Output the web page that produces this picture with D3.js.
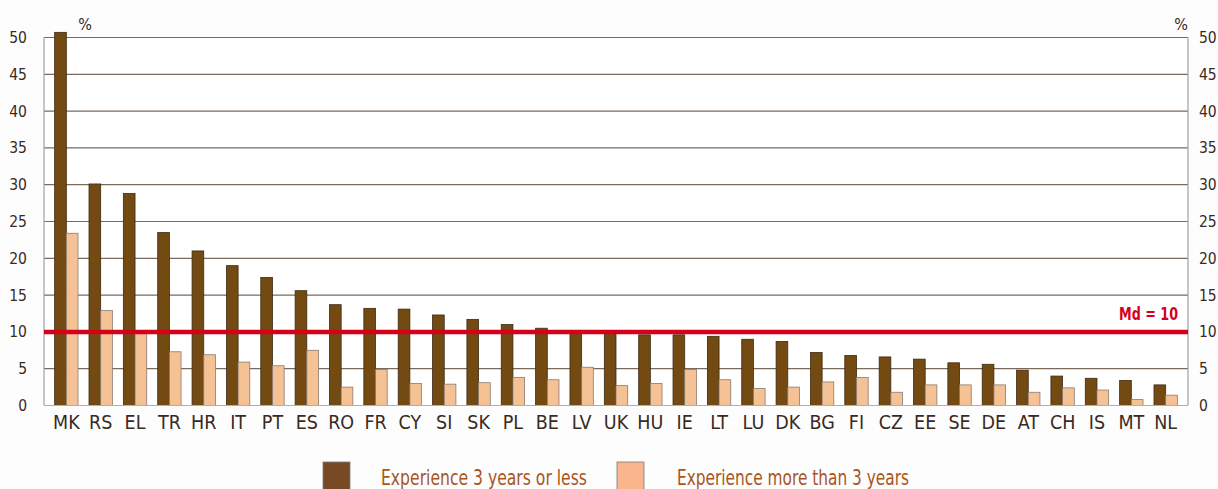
<!DOCTYPE html>
<html>
<head>
<meta charset="utf-8">
<script src="https://cdnjs.cloudflare.com/ajax/libs/d3/7.8.5/d3.min.js"></script>
<style>
  body { margin: 0; background: #fdfdfd; }
  svg text { font-family: "DejaVu Sans Condensed", "Liberation Sans", sans-serif; }
</style>
</head>
<body>
<div id="chart"></div>
<script>
// countries, in the order shown
const countries = ["MK", "RS", "EL", "TR", "HR", "IT", "PT", "ES", "RO", "FR", "CY", "SI", "SK", "PL", "BE", "LV",
    "UK", "HU", "IE", "LT", "LU", "DK", "BG", "FI", "CZ", "EE", "SE", "DE", "AT", "CH", "IS", "MT", "NL"];
const lessThan3 = [50.7, 30.1, 28.8, 23.5, 21.0, 19.0, 17.4, 15.6, 13.7, 13.2, 13.1, 12.3, 11.7, 11.0, 10.5, 10.2,
    9.9, 9.6, 9.6, 9.4, 9.0, 8.7, 7.2, 6.8, 6.6, 6.3, 5.8, 5.6, 4.8, 4.0, 3.7, 3.4, 2.8];
const moreThan3 = [23.4, 12.9, 9.9, 7.3, 6.9, 5.9, 5.4, 7.5, 2.5, 4.9, 3.0, 2.9, 3.1, 3.8, 3.5, 5.2,
    2.7, 3.0, 4.9, 3.5, 2.3, 2.5, 3.2, 3.8, 1.8, 2.8, 2.8, 2.8, 1.8, 2.4, 2.1, 0.8, 1.4];
const yTicks = [0, 5, 10, 15, 20, 25, 30, 35, 40, 45, 50];
const median = 10;
const seriesNames = ["Experience 3 years or less", "Experience more than 3 years"];
const seriesColors = ["#734a12", "#f5c296"];

const width = 1218, height = 489;
const plot = { left: 44, right: 1188, top: 37.5, bottom: 405.5 };

const svg = d3.select("#chart").append("svg")
    .attr("width", width)
    .attr("height", height);

svg.append("rect").attr("x", plot.left).attr("y", plot.top)
    .attr("width", plot.right - plot.left).attr("height", plot.bottom - plot.top)
    .attr("fill", "#ffffff");

const x = d3.scaleBand()
    .domain(countries)
    .range([plot.left, plot.right])
    .paddingInner(0.32)
    .paddingOuter(0.31);

const xSub = d3.scaleBand()
    .domain([0, 1])
    .range([0, x.bandwidth()]);

const y = d3.scaleLinear()
    .domain([0, 50])
    .range([plot.bottom, plot.top]);

// gridlines
svg.append("g")
    .selectAll("line")
    .data(yTicks.filter(d => d > 0))
    .join("line")
    .attr("x1", plot.left).attr("x2", plot.right)
    .attr("y1", d => y(d)).attr("y2", d => y(d))
    .attr("stroke", "#7a6a5c")
    .attr("stroke-width", 1.2);

// side lines
svg.append("line").attr("x1", plot.left).attr("x2", plot.left).attr("y1", plot.top).attr("y2", plot.bottom)
    .attr("stroke", "#a8a099").attr("stroke-width", 1.2);
svg.append("line").attr("x1", plot.right).attr("x2", plot.right).attr("y1", plot.top).attr("y2", plot.bottom)
    .attr("stroke", "#a8a099").attr("stroke-width", 1.2);

// bars
const groups = svg.append("g")
    .selectAll("g")
    .data(countries)
    .join("g")
    .attr("transform", d => `translate(${x(d)},0)`);

groups.append("rect")
    .attr("x", xSub(0))
    .attr("width", xSub.bandwidth())
    .attr("y", (d, i) => y(lessThan3[i]))
    .attr("height", (d, i) => y(0) - y(lessThan3[i]))
    .attr("fill", seriesColors[0])
    .attr("stroke", "#3e2a14")
    .attr("stroke-width", 0.8);

groups.append("rect")
    .attr("x", xSub(1))
    .attr("width", xSub.bandwidth())
    .attr("y", (d, i) => y(moreThan3[i]))
    .attr("height", (d, i) => y(0) - y(moreThan3[i]))
    .attr("fill", seriesColors[1])
    .attr("stroke", "#8a7a70")
    .attr("stroke-width", 0.8);

// baseline
svg.append("line").attr("x1", plot.left).attr("x2", plot.right).attr("y1", y(0)).attr("y2", y(0))
    .attr("stroke", "#a3aed0").attr("stroke-width", 1.2);

// median line
svg.append("line").attr("x1", plot.left).attr("x2", plot.right).attr("y1", y(median)).attr("y2", y(median))
    .attr("stroke", "#d7001a").attr("stroke-width", 4.5);
svg.append("text")
    .attr("x", plot.right - 69).attr("y", y(median) - 11.5)
    .attr("fill", "#d7001a")
    .attr("font-weight", "bold")
    .attr("font-size", 18)
    .attr("textLength", 59)
    .attr("lengthAdjust", "spacingAndGlyphs")
    .text("Md = " + median);

// axes
const axisLeft = svg.append("g")
    .attr("transform", `translate(${plot.left},0)`)
    .call(d3.axisLeft(y).tickValues(yTicks).tickSize(0).tickPadding(17));
const axisRight = svg.append("g")
    .attr("transform", `translate(${plot.right},0)`)
    .call(d3.axisRight(y).tickValues(yTicks).tickSize(0).tickPadding(11));
[axisLeft, axisRight].forEach(a => {
    a.select(".domain").remove();
    a.selectAll("text").attr("font-size", 15.5).attr("fill", "#3a2a1e")
        .attr("font-family", "\"DejaVu Sans Condensed\", sans-serif");
});

const axisBottom = svg.append("g")
    .attr("transform", `translate(0,${plot.bottom})`)
    .call(d3.axisBottom(x).tickSize(0).tickPadding(10));
axisBottom.select(".domain").remove();
axisBottom.selectAll("text").attr("font-size", 19.5).attr("fill", "#3a2a1e")
    .attr("font-family", "\"DejaVu Sans Condensed\", sans-serif");

// % labels
svg.append("text").attr("x", 85).attr("y", 30).attr("text-anchor", "middle")
    .attr("font-size", 16).attr("fill", "#3a2a1e").text("%");
svg.append("text").attr("x", 1181).attr("y", 30).attr("text-anchor", "middle")
    .attr("font-size", 16).attr("fill", "#3a2a1e").text("%");

// legend
const legendX = [323, 617];
const legendTextLen = [206, 232];
const legend = svg.append("g")
    .selectAll("g")
    .data(seriesNames)
    .join("g")
    .attr("transform", (d, i) => `translate(${legendX[i]},462)`);
legend.append("rect")
    .attr("width", 27).attr("height", 30)
    .attr("fill", (d, i) => i === 0 ? "#774a25" : "#f9b58b")
    .attr("stroke", "#7a7a7a").attr("stroke-width", 0.8);
legend.append("text")
    .attr("x", (d, i) => i === 0 ? 58 : 60)
    .attr("y", 22.5)
    .attr("font-size", 22)
    .attr("font-family", "\"Liberation Sans\", sans-serif")
    .attr("textLength", (d, i) => legendTextLen[i])
    .attr("lengthAdjust", "spacingAndGlyphs")
    .attr("fill", "#a8561e")
    .text(d => d);
</script>
</body>
</html>
